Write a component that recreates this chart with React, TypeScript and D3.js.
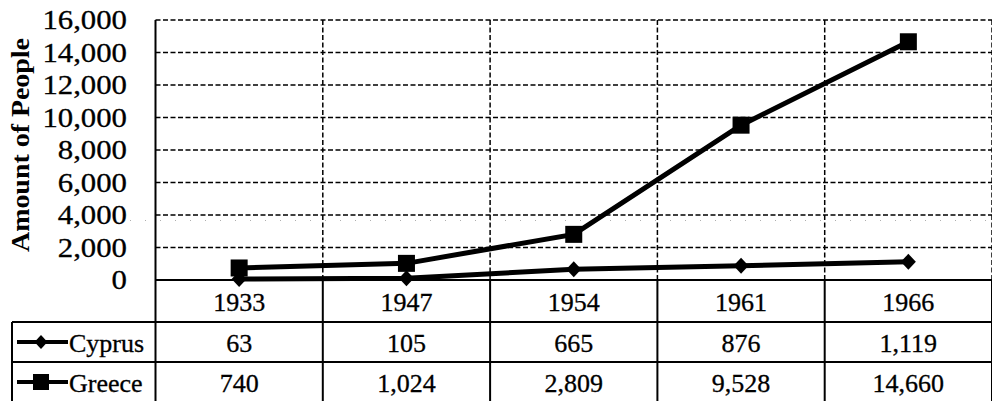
import React from 'react';
import * as d3 from 'd3';

// constants
const width = 992;
const height = 401;
const margin = { top: 20, right: 0, bottom: 121, left: 155.5 };
const plotBottom = 280;
const rowLines = [322, 362];
const tableLeft = 12;

// data
const years = ['1933', '1947', '1954', '1961', '1966'];
const cyprus = [63, 105, 665, 876, 1119];
const greece = [740, 1024, 2809, 9528, 14660];
const yTicks = [0, 2000, 4000, 6000, 8000, 10000, 12000, 14000, 16000];
const seriesNames = ['Cyprus', 'Greece'];

const font = '"Liberation Serif", "Times New Roman", serif';
const fmt = d3.format(',');

const App = () => {
  const x = d3.scaleBand<string>()
    .domain(years)
    .range([margin.left, 992])
    .padding(0);
  const y = d3.scaleLinear()
    .domain([0, 16000])
    .range([plotBottom, margin.top]);

  const line = d3.line<number>()
    .x((d, i) => (x(years[i]) as number) + x.bandwidth() / 2)
    .y(d => y(d));

  const bounds = years.map(yr => x(yr) as number).concat([x.range()[1]]);
  const series = [cyprus, greece];
  const ink = { stroke: '#000', strokeWidth: 0.3 };

  return (
    <svg width={width} height={height} style={{ position: 'absolute', left: 0, top: 0, background: '#fff' }}>
      <rect width={width} height={height} fill="#fff" />
      {/* horizontal dashed grid */}
      {yTicks.filter(t => t > 0).map(t => (
        <line key={t} x1={margin.left} x2={width} y1={y(t)} y2={y(t)}
          stroke="#000" strokeWidth={1.5} strokeDasharray="5,2.5" />
      ))}
      {/* faint scan dots */}
      <line x1={130} x2={width} y1={220.5} y2={220.5} stroke="#999" strokeWidth={0.8} strokeDasharray="1,14" />
      {/* vertical dashed grid in plot */}
      {bounds.slice(1).map((bx, i) => (
        <line key={i} x1={bx} x2={bx} y1={margin.top} y2={plotBottom}
          stroke="#000" strokeWidth={1.5} strokeDasharray="5,2.5" />
      ))}
      {/* vertical table lines */}
      {bounds.map((bx, i) => (
        <line key={i} x1={bx} x2={bx} y1={i === 0 ? margin.top : plotBottom} y2={height}
          stroke="#000" strokeWidth={2} />
      ))}
      <line x1={tableLeft} x2={tableLeft} y1={rowLines[0]} y2={height} stroke="#000" strokeWidth={2} />
      {/* zero line and row lines */}
      <line x1={margin.left} x2={width} y1={plotBottom} y2={plotBottom} stroke="#000" strokeWidth={2} />
      {rowLines.map(ry => (
        <line key={ry} x1={tableLeft} x2={width} y1={ry} y2={ry} stroke="#000" strokeWidth={2} />
      ))}

      {/* y tick labels */}
      {yTicks.map(t => (
        <text key={t} x={0} y={0} textAnchor="end" fontFamily={font} fontSize={27} {...ink}
          transform={`translate(127,${y(t) + 9}) scale(1.14,1)`}>{fmt(t)}</text>
      ))}
      {/* y title */}
      <text transform={`translate(29,145) rotate(-90)`} textAnchor="middle" fontFamily={font}
        fontWeight="bold" fontSize={25} textLength={214} lengthAdjust="spacingAndGlyphs">Amount of People</text>

      {/* series lines */}
      {series.map((s, k) => (
        <path key={k} d={line(s) as string} fill="none" stroke="#000" strokeWidth={5} />
      ))}
      {cyprus.map((v, i) => {
        const cx = (x(years[i]) as number) + x.bandwidth() / 2;
        const cy = y(v);
        return <path key={i} d={`M${cx},${cy - 8}L${cx + 7.5},${cy}L${cx},${cy + 8}L${cx - 7.5},${cy}Z`} fill="#000" />;
      })}
      {greece.map((v, i) => {
        const cx = (x(years[i]) as number) + x.bandwidth() / 2;
        return <rect key={i} x={cx - 8.5} y={y(v) - 8.5} width={17} height={17} fill="#000" />;
      })}

      {/* year labels */}
      {years.map(yr => (
        <text key={yr} x={(x(yr) as number) + x.bandwidth() / 2} y={311} textAnchor="middle"
          fontFamily={font} fontSize={26} {...ink}>{yr}</text>
      ))}
      {/* table values */}
      {series.map((s, k) => s.map((v, i) => (
        <text key={`${k}-${i}`} x={(x(years[i]) as number) + x.bandwidth() / 2} y={k === 0 ? 352 : 392}
          textAnchor="middle" fontFamily={font} fontSize={26} {...ink}>{fmt(v)}</text>
      )))}
      {/* legend keys */}
      {seriesNames.map((name, k) => {
        const ry = k === 0 ? 342 : 382;
        return (
          <g key={name}>
            <line x1={17} x2={68} y1={ry} y2={ry} stroke="#000" strokeWidth={4} />
            {k === 0
              ? <path d={`M41,${ry - 7}L47.5,${ry}L41,${ry + 7}L34.5,${ry}Z`} fill="#000" />
              : <rect x={33} y={ry - 8} width={16} height={16} fill="#000" />}
            <text x={69} y={ry + 10} fontFamily={font} fontSize={26} {...ink}>{name}</text>
          </g>
        );
      })}
    </svg>
  );
};

export default App;
